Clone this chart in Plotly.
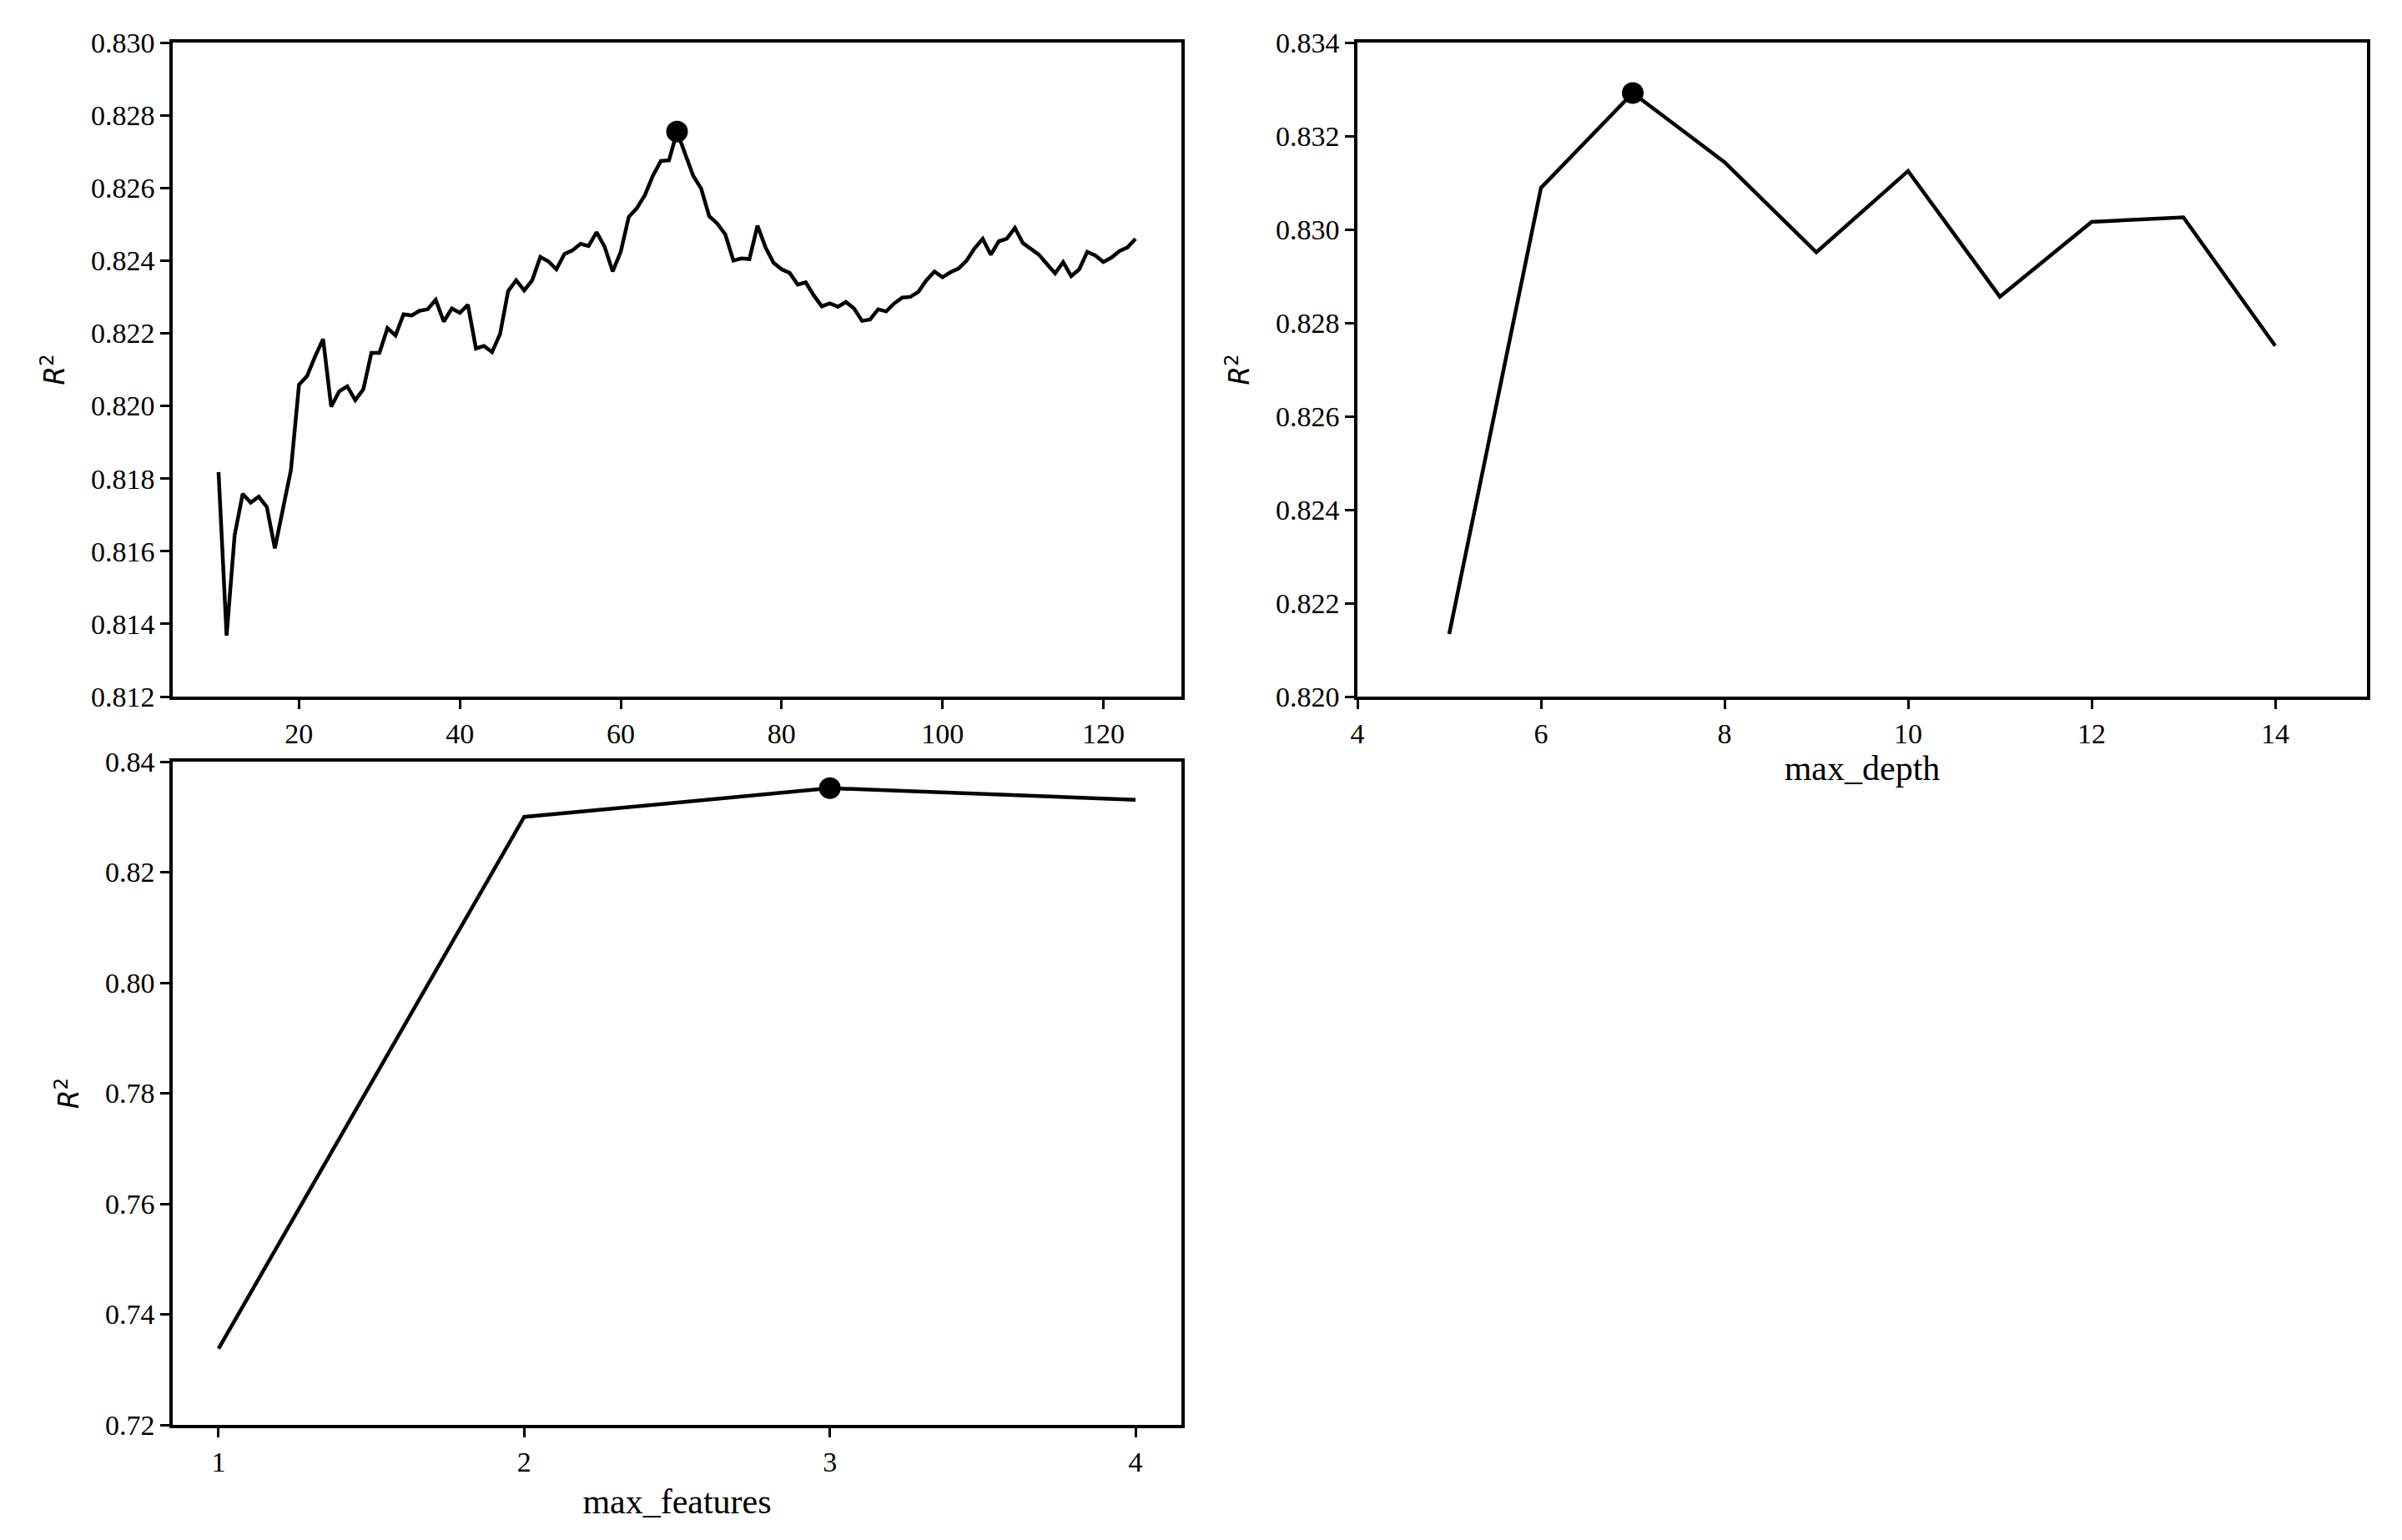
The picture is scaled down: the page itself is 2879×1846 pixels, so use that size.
import plotly.graph_objects as go

# n_estimators sweep (10..124)
n_est = list(range(10, 125))
r2_est = [
    0.81818, 0.81368, 0.81644, 0.81758, 0.81734, 0.81750, 0.81722, 0.81608, 0.81716, 0.81824,
    0.82058, 0.82082, 0.82136, 0.82184, 0.81998, 0.82040, 0.82054, 0.82016, 0.82046, 0.82146,
    0.82146, 0.82214, 0.82194, 0.82252, 0.82249, 0.82262, 0.82266, 0.82292, 0.82232, 0.82268,
    0.82256, 0.82278, 0.82158, 0.82165, 0.82148, 0.82198, 0.82316, 0.82346, 0.82318, 0.82346,
    0.82410, 0.82398, 0.82376, 0.82418, 0.82428, 0.82446, 0.82440, 0.82478, 0.82438, 0.82370,
    0.82424, 0.82520, 0.82544, 0.82580, 0.82634, 0.82674, 0.82676, 0.82755, 0.82694, 0.82634,
    0.82598, 0.82522, 0.82502, 0.82472, 0.82400, 0.82406, 0.82404, 0.82496, 0.82436, 0.82394,
    0.82376, 0.82366, 0.82334, 0.82340, 0.82304, 0.82274, 0.82282, 0.82273, 0.82286, 0.82268,
    0.82234, 0.82238, 0.82266, 0.82260, 0.82282, 0.82298, 0.82300, 0.82314, 0.82346, 0.82370,
    0.82354, 0.82368, 0.82378, 0.82400, 0.82434, 0.82460, 0.82416, 0.82453, 0.82460, 0.82490,
    0.82448, 0.82432, 0.82416, 0.82390, 0.82365, 0.82396, 0.82357, 0.82376, 0.82424, 0.82414,
    0.82396, 0.82408, 0.82426, 0.82436, 0.82460,
]
best_est = 67

# max_depth sweep
depth = [5, 6, 7, 8, 9, 10, 11, 12, 13, 14]
r2_depth = [0.82134, 0.83089, 0.83292, 0.83144, 0.82951, 0.83125, 0.82856, 0.83016, 0.83026, 0.82751]
best_depth = 7

# max_features sweep
feats = [1, 2, 3, 4]
r2_feats = [0.7338, 0.8300, 0.8352, 0.8331]
best_feat = 3

W, H = 2879, 1846
OFF = 8  # page margin around the plot div
line = dict(color="black", width=4.5)
mk = dict(color="black", size=26)

fig = go.Figure()
fig.add_trace(go.Scatter(x=n_est, y=r2_est, mode="lines", line=line, xaxis="x", yaxis="y"))
fig.add_trace(go.Scatter(x=[best_est], y=[r2_est[n_est.index(best_est)]], mode="markers",
                         marker=mk, xaxis="x", yaxis="y"))
fig.add_trace(go.Scatter(x=depth, y=r2_depth, mode="lines", line=line, xaxis="x2", yaxis="y2"))
fig.add_trace(go.Scatter(x=[best_depth], y=[r2_depth[depth.index(best_depth)]], mode="markers",
                         marker=mk, xaxis="x2", yaxis="y2"))
fig.add_trace(go.Scatter(x=feats, y=r2_feats, mode="lines", line=line, xaxis="x3", yaxis="y3"))
fig.add_trace(go.Scatter(x=[best_feat], y=[r2_feats[feats.index(best_feat)]], mode="markers",
                         marker=mk, xaxis="x3", yaxis="y3"))

tickfont = dict(family="Liberation Serif", size=34, color="black")
titlefont = dict(family="Liberation Serif", size=42, color="black")
r2font = dict(family="DejaVu Sans", size=33, color="black")


def ax(**kw):
    base = dict(showline=True, linecolor="black", linewidth=3.5, mirror=True,
                ticks="outside", ticklen=11, tickwidth=3, tickcolor="black",
                showgrid=False, zeroline=False, tickfont=tickfont, automargin=False)
    base.update(kw)
    return base


def px(a, b):
    return [(a - OFF) / W, (b - OFF) / W]


def py(top, bot):
    return [1 - (bot - OFF) / H, 1 - (top - OFF) / H]


fig.update_layout(
    width=W, height=H, showlegend=False,
    margin=dict(l=0, r=0, t=0, b=0),
    plot_bgcolor="white", paper_bgcolor="white",
    xaxis=ax(domain=px(207, 1416), range=[4.3, 129.7], tickvals=[20, 40, 60, 80, 100, 120],
             anchor="y"),
    yaxis=ax(domain=py(51, 835), range=[0.812, 0.830], dtick=0.002, tickformat=".3f",
             anchor="x", title=dict(text="<i>R</i><sup>2</sup>", font=r2font, standoff=22)),
    xaxis2=ax(domain=px(1627, 2837), range=[4, 15], tickvals=[4, 6, 8, 10, 12, 14],
              anchor="y2", title=dict(text="max_depth", font=titlefont, standoff=10)),
    yaxis2=ax(domain=py(51, 835), range=[0.820, 0.834], dtick=0.002, tickformat=".3f",
              anchor="x2", title=dict(text="<i>R</i><sup>2</sup>", font=r2font, standoff=22)),
    xaxis3=ax(domain=px(207, 1416), range=[0.85, 4.15], tickvals=[1, 2, 3, 4],
              anchor="y3", title=dict(text="max_features", font=titlefont, standoff=16)),
    yaxis3=ax(domain=py(913, 1708), range=[0.72, 0.84], dtick=0.02, tickformat=".2f",
              anchor="x3", title=dict(text="<i>R</i><sup>2</sup>", font=r2font, standoff=22)),
)

fig.write_html("out.html")
